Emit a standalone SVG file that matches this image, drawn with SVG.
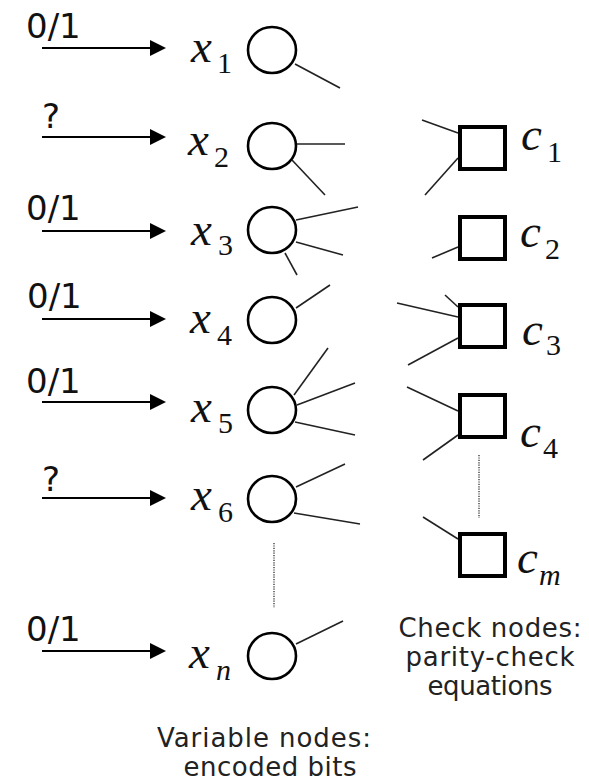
<svg xmlns="http://www.w3.org/2000/svg" width="589" height="781" viewBox="0 0 589 781">
<defs>
<style>
.lbl{font-family:"DejaVu Sans","Verdana",sans-serif;font-size:34px;fill:#111}
.cap{font-family:"DejaVu Sans","Verdana",sans-serif;font-size:26px;fill:#222}
.var{font-family:"Liberation Serif","Times New Roman",serif;font-style:italic;font-size:47px;fill:#111}
.sub{font-family:"Liberation Serif","Times New Roman",serif;font-size:30px;fill:#111}
.subi{font-family:"Liberation Serif","Times New Roman",serif;font-style:italic;font-size:30px;fill:#111}
.vn{fill:#fff;stroke:#000;stroke-width:2.6}
.cn{fill:#fff;stroke:#000;stroke-width:4}
.arr{stroke:#000;stroke-width:2.2;fill:none}
.edge{stroke:#222;stroke-width:1.6;fill:none}
.dots{stroke:#555;stroke-width:1.6;stroke-dasharray:1.2 1.2;fill:none}
</style>
<marker id="ah" markerWidth="16" markerHeight="16" refX="0" refY="0" viewBox="0 -8 16 16" markerUnits="userSpaceOnUse" orient="auto" overflow="visible">
<path d="M0,-8 L16,0 L0,8 Z" fill="#000"/>
</marker>
</defs>
<rect width="589" height="781" fill="#fff"/>

<g id="inputs">
<g id="in1"><text class="lbl" x="26" y="38">0/1</text><line class="arr" x1="42" y1="48" x2="150" y2="48" marker-end="url(#ah)"/></g>
<g id="in2"><text class="lbl" x="42" y="128">?</text><line class="arr" x1="42" y1="137" x2="150" y2="137" marker-end="url(#ah)"/></g>
<g id="in3"><text class="lbl" x="26" y="220">0/1</text><line class="arr" x1="42" y1="231" x2="150" y2="231" marker-end="url(#ah)"/></g>
<g id="in4"><text class="lbl" x="27" y="308">0/1</text><line class="arr" x1="42" y1="319" x2="150" y2="319" marker-end="url(#ah)"/></g>
<g id="in5"><text class="lbl" x="26" y="393">0/1</text><line class="arr" x1="42" y1="402" x2="150" y2="402" marker-end="url(#ah)"/></g>
<g id="in6"><text class="lbl" x="42" y="491">?</text><line class="arr" x1="42" y1="498" x2="150" y2="498" marker-end="url(#ah)"/></g>
<g id="inn"><text class="lbl" x="26" y="641">0/1</text><line class="arr" x1="42" y1="651" x2="150" y2="651" marker-end="url(#ah)"/></g>
</g>

<g id="connectors">
<line class="edge" x1="295" y1="64" x2="340" y2="88"/>
<line class="edge" x1="296" y1="144" x2="345" y2="144"/>
<line class="edge" x1="292" y1="160" x2="325" y2="195"/>
<line class="edge" x1="296" y1="220" x2="358" y2="207"/>
<line class="edge" x1="296" y1="242" x2="343" y2="255"/>
<line class="edge" x1="285" y1="253" x2="297" y2="275"/>
<line class="edge" x1="296" y1="308" x2="330" y2="285"/>
<line class="edge" x1="294" y1="395" x2="328" y2="348"/>
<line class="edge" x1="297" y1="405" x2="355" y2="383"/>
<line class="edge" x1="295" y1="422" x2="355" y2="435"/>
<line class="edge" x1="296" y1="487" x2="345" y2="464"/>
<line class="edge" x1="294" y1="513" x2="360" y2="524"/>
<line class="edge" x1="296" y1="644" x2="343" y2="621"/>
<line class="edge" x1="422" y1="120" x2="458" y2="133"/>
<line class="edge" x1="425" y1="195" x2="458" y2="158"/>
<line class="edge" x1="432" y1="258" x2="458" y2="247"/>
<line class="edge" x1="445" y1="295" x2="458" y2="307"/>
<line class="edge" x1="397" y1="303" x2="458" y2="317"/>
<line class="edge" x1="408" y1="365" x2="458" y2="338"/>
<line class="edge" x1="407" y1="387" x2="458" y2="411"/>
<line class="edge" x1="423" y1="460" x2="458" y2="435"/>
<line class="edge" x1="423" y1="517" x2="458" y2="539"/>
<line class="dots" x1="274" y1="543" x2="274" y2="608"/>
<line class="dots" x1="479" y1="455" x2="479" y2="518"/>
</g>

<g id="x1"><ellipse class="vn" cx="272" cy="50" rx="24" ry="23"/><text class="var" x="191" y="62">x</text><text class="sub" x="217" y="73">1</text></g>
<g id="x2"><ellipse class="vn" cx="272" cy="146" rx="24" ry="23"/><text class="var" x="188" y="155">x</text><text class="sub" x="214" y="167">2</text></g>
<g id="x3"><ellipse class="vn" cx="272" cy="230" rx="24" ry="23"/><text class="var" x="191" y="245">x</text><text class="sub" x="218" y="255">3</text></g>
<g id="x4"><ellipse class="vn" cx="272" cy="320" rx="24" ry="23"/><text class="var" x="190" y="333">x</text><text class="sub" x="217" y="345">4</text></g>
<g id="x5"><ellipse class="vn" cx="272" cy="410" rx="24" ry="23"/><text class="var" x="191" y="422">x</text><text class="sub" x="218" y="433">5</text></g>
<g id="x6"><ellipse class="vn" cx="272" cy="499" rx="24" ry="23"/><text class="var" x="191" y="510">x</text><text class="sub" x="218" y="522">6</text></g>
<g id="xn"><ellipse class="vn" cx="272" cy="656" rx="24" ry="23"/><text class="var" x="189" y="668">x</text><text class="subi" x="216" y="680">n</text></g>

<g id="c1"><rect class="cn" x="460" y="127" width="45" height="42"/><text class="var" x="521" y="150">c</text><text class="sub" x="547" y="162">1</text></g>
<g id="c2"><rect class="cn" x="460" y="217" width="45" height="42"/><text class="var" x="520" y="247">c</text><text class="sub" x="545" y="259">2</text></g>
<g id="c3"><rect class="cn" x="460" y="305" width="45" height="42"/><text class="var" x="522" y="345">c</text><text class="sub" x="546" y="355">3</text></g>
<g id="c4"><rect class="cn" x="460" y="395" width="45" height="42"/><text class="var" x="520" y="447">c</text><text class="sub" x="543" y="458">4</text></g>
<g id="cm"><rect class="cn" x="460" y="534" width="45" height="42"/><text class="var" x="517" y="573">c</text><text class="subi" x="539" y="585">m</text></g>

<g id="captions">
<text class="cap" x="264" y="747" text-anchor="middle" textLength="214" lengthAdjust="spacing">Variable nodes:</text>
<text class="cap" x="270" y="776" text-anchor="middle" textLength="173" lengthAdjust="spacing">encoded bits</text>
<text class="cap" x="490" y="637" text-anchor="middle" textLength="183" lengthAdjust="spacing">Check nodes:</text>
<text class="cap" x="490" y="666" text-anchor="middle" textLength="169" lengthAdjust="spacing">parity-check</text>
<text class="cap" x="490" y="695" text-anchor="middle" textLength="125" lengthAdjust="spacing">equations</text>
</g>
</svg>
